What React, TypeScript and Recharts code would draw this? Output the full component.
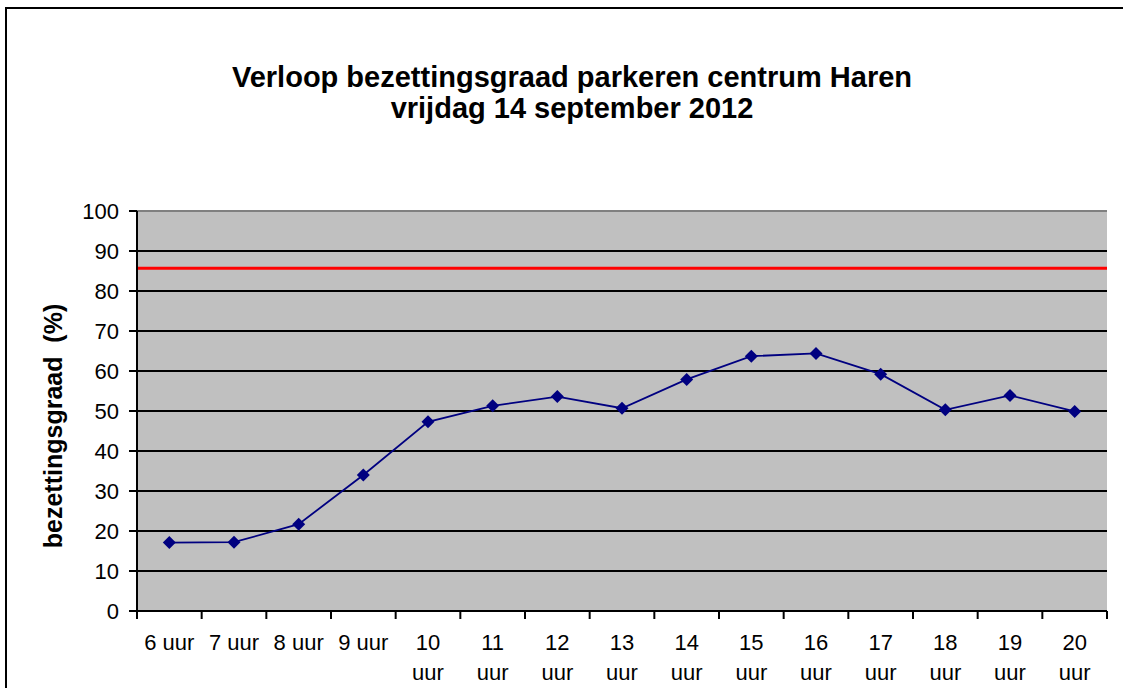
import { LineChart, Line, XAxis, YAxis, CartesianGrid, ReferenceLine } from 'recharts';

const hours = ['6 uur', '7 uur', '8 uur', '9 uur', '10 uur', '11 uur', '12 uur', '13 uur', '14 uur', '15 uur', '16 uur', '17 uur', '18 uur', '19 uur', '20 uur'];
const occupancy = [17.1, 17.2, 21.7, 34.0, 47.3, 51.3, 53.6, 50.7, 57.9, 63.7, 64.4, 59.2, 50.3, 53.9, 49.9];
const yTicks = [0, 10, 20, 30, 40, 50, 60, 70, 80, 90, 100];
const maxNorm = 85.7;

const data = hours.map((h, i) => ({ uur: h, bezetting: occupancy[i] }));

const FONT = 'Arial, "Liberation Sans", sans-serif';
const PLOT_LEFT = 137;
const PLOT_RIGHT = 1107;
const BAND = (PLOT_RIGHT - PLOT_LEFT) / hours.length;

function Diamond(props: any) {
  const { cx, cy } = props;
  if (cx == null || cy == null) return null;
  const r = 6.5;
  return <polygon points={`${cx},${cy - r} ${cx + r},${cy} ${cx},${cy + r} ${cx - r},${cy}`} fill="#000080" />;
}

function HourTick(props: any) {
  const { x, y, payload, index } = props;
  const parts = String(payload.value).split(' ');
  const wrap = parts[0].length > 1;
  const left = x - BAND / 2;
  return (
    <g>
      <line x1={left} y1={y - 8} x2={left} y2={y} stroke="#000" strokeWidth={2} />
      {index === hours.length - 1 && (
        <line x1={x + BAND / 2} y1={y - 8} x2={x + BAND / 2} y2={y} stroke="#000" strokeWidth={2} />
      )}
      {wrap ? (
        <text x={x} y={y + 31} textAnchor="middle" fontSize={22} fontFamily={FONT} fill="#000">
          <tspan x={x}>{parts[0]}</tspan>
          <tspan x={x} dy={30}>{parts[1]}</tspan>
        </text>
      ) : (
        <text x={x} y={y + 31} textAnchor="middle" fontSize={22} fontFamily={FONT} fill="#000">
          {payload.value}
        </text>
      )}
    </g>
  );
}

export default function App() {
  return (
    <div style={{ position: 'absolute', left: 0, top: 0, width: 1123, height: 688, overflow: 'hidden', background: '#fff' }}>
      <style>{'html,body{margin:0;overflow:hidden}'}</style>
      <div style={{ position: 'absolute', left: 0, top: 0 }}>
        <LineChart width={1123} height={688} data={data} margin={{ top: 211, right: 16, bottom: 0, left: 77 }}>
          <CartesianGrid vertical={false} stroke="#000" strokeWidth={2} fill="#C0C0C0" fillOpacity={1} />
          <XAxis
            dataKey="uur"
            scale="band"
            height={77}
            axisLine={{ stroke: '#000', strokeWidth: 2 }}
            tickLine={false}
            tick={<HourTick />}
            interval={0}
          />
          <YAxis
            width={60}
            domain={[0, 100]}
            ticks={yTicks}
            interval={0}
            axisLine={{ stroke: '#000', strokeWidth: 2 }}
            tickLine={{ stroke: '#000', strokeWidth: 2 }}
            tickSize={8}
            tickMargin={10}
            tick={{ fontSize: 22, fill: '#000', fontFamily: FONT }}
          />
          <YAxis yAxisId="r" orientation="right" width={0} domain={[0, 100]} tick={false} tickLine={false} axisLine={{ stroke: '#808080', strokeWidth: 2 }} />
          <ReferenceLine y={100} stroke="#808080" strokeWidth={2} />
          <ReferenceLine y={maxNorm} stroke="#FF0000" strokeWidth={3} />
          <Line
            type="linear"
            dataKey="bezetting"
            stroke="#000080"
            strokeWidth={1.8}
            dot={<Diamond />}
            activeDot={false}
            isAnimationActive={false}
          />
        </LineChart>
      </div>
      <svg style={{ position: 'absolute', left: 0, top: 0 }} width={1123} height={688} pointerEvents="none">
        <line x1={5} y1={8} x2={1123} y2={8} stroke="#000" strokeWidth={2} />
        <line x1={6} y1={7} x2={6} y2={688} stroke="#000" strokeWidth={2} />
        <text x={572} y={87} textAnchor="middle" fontSize={29} fontWeight="bold" fontFamily={FONT}>
          Verloop bezettingsgraad parkeren centrum Haren
        </text>
        <text x={572} y={118} textAnchor="middle" fontSize={29} fontWeight="bold" fontFamily={FONT}>
          vrijdag 14 september 2012
        </text>
        <text
          x={0}
          y={0}
          transform="translate(62 426) rotate(-90)"
          textAnchor="middle"
          fontSize={25}
          fontWeight="bold"
          fontFamily={FONT}
        >
          {'bezettingsgraad\u00A0\u00A0(%)'}
        </text>
      </svg>
    </div>
  );
}
